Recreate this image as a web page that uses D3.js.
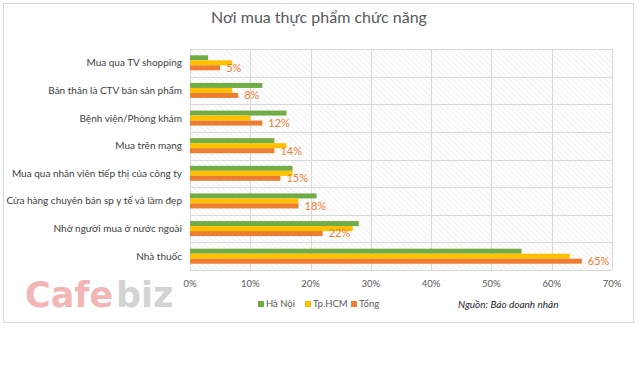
<!DOCTYPE html>
<html>
<head>
<meta charset="utf-8">
<script src="https://cdn.jsdelivr.net/npm/d3@7"></script>
<style>
  body { margin: 0; background: #fff; }
  svg { font-family: Lato, "Open Sans", sans-serif; }
</style>
</head>
<body>
<svg id="chart" width="640" height="384"></svg>
<script>
// categories, top to bottom
const categories = [
  "Mua qua TV shopping",
  "Bản thân là CTV bán sản phẩm",
  "Bệnh viện/Phòng khám",
  "Mua trên mạng",
  "Mua qua nhân viên tiếp thị của công ty",
  "Cửa hàng chuyên bán sp y tế và làm đẹp",
  "Nhờ người mua ở nước ngoài",
  "Nhà thuốc"
];
const haNoi = [3, 12, 16, 14, 17, 21, 28, 55];
const tpHCM = [7, 7, 10, 16, 17, 18, 27, 63];
const tong = [5, 8, 12, 14, 15, 18, 22, 65];
const seriesNames = ["Hà Nội", "Tp.HCM", "Tổng"];
const seriesColors = ["#70ad47", "#ffc000", "#ed7d31"];
const xTicks = [0, 10, 20, 30, 40, 50, 60, 70];

const series = [haNoi, tpHCM, tong];

const svg = d3.select("#chart");

// outer frame
svg.append("rect")
  .attr("x", 3.5).attr("y", 3.5)
  .attr("width", 630).attr("height", 319)
  .attr("fill", "#fff")
  .attr("stroke", "#d9d9d9");

// hatch pattern for plot area
const defs = svg.append("defs");
const pat = defs.append("pattern")
  .attr("id", "hatch")
  .attr("patternUnits", "userSpaceOnUse")
  .attr("width", 4).attr("height", 4)
  .attr("patternTransform", "rotate(-45)");
pat.append("line")
  .attr("x1", 0).attr("y1", 0).attr("x2", 0).attr("y2", 4)
  .attr("stroke", "#e4e4e4").attr("stroke-width", 1);

const margin = { top: 49, left: 190 };
const width = 422, height = 221;

const g = svg.append("g")
  .attr("transform", "translate(" + margin.left + "," + margin.top + ")");

const x = d3.scaleLinear().domain([0, 70]).range([0, width]);
const y = d3.scaleBand().domain(categories).range([0, height]);

g.append("rect")
  .attr("width", width).attr("height", height)
  .attr("fill", "url(#hatch)");

// vertical gridlines
g.selectAll(".vgrid")
  .data(xTicks)
  .enter().append("line")
  .attr("x1", d => Math.round(x(d)) + 0.5)
  .attr("x2", d => Math.round(x(d)) + 0.5)
  .attr("y1", 0).attr("y2", height)
  .attr("stroke", "#d9d9d9");

// horizontal gridlines between categories
const hLines = categories.map(c => y(c)).concat([height]);
g.selectAll(".hgrid")
  .data(hLines)
  .enter().append("line")
  .attr("x1", 0).attr("x2", width)
  .attr("y1", d => Math.round(d) + 0.5)
  .attr("y2", d => Math.round(d) + 0.5)
  .attr("stroke", "#d9d9d9");

// bars
const barH = 5;
const groupH = barH * series.length;
series.forEach((vals, i) => {
  g.selectAll(".bar" + i)
    .data(vals)
    .enter().append("rect")
    .attr("x", 0)
    .attr("y", (d, j) => y(categories[j]) + (y.bandwidth() - groupH) / 2 + i * barH)
    .attr("width", d => x(d))
    .attr("height", barH)
    .attr("fill", seriesColors[i]);
});

// data labels for total
g.selectAll(".lbl")
  .data(tong)
  .enter().append("text")
  .attr("x", d => x(d) + 6)
  .attr("y", (d, j) => y(categories[j]) + (y.bandwidth() - groupH) / 2 + 2 * barH + barH / 2)
  .attr("dy", "0.35em")
  .attr("font-size", 11)
  .attr("fill", "#ed7d31")
  .text(d => d + "%");

// category labels
g.selectAll(".cat")
  .data(categories)
  .enter().append("text")
  .attr("x", -8)
  .attr("y", d => y(d) + y.bandwidth() / 2)
  .attr("dy", "0.35em")
  .attr("text-anchor", "end")
  .attr("font-size", 10)
  .attr("fill", "#404040")
  .text(d => d);

// x axis labels
g.selectAll(".xt")
  .data(xTicks)
  .enter().append("text")
  .attr("x", d => x(d))
  .attr("y", height + 14)
  .attr("dy", "0.35em")
  .attr("text-anchor", "middle")
  .attr("font-size", 9.5)
  .attr("fill", "#595959")
  .text(d => d + "%");

// title
svg.append("text")
  .attr("x", 319).attr("y", 23)
  .attr("text-anchor", "middle")
  .attr("font-size", 16)
  .attr("fill", "#595959")
  .text("Nơi mua thực phẩm chức năng");

// legend
const legendX = [258, 305, 351];
seriesNames.forEach((name, i) => {
  const lg = svg.append("g").attr("transform", "translate(" + legendX[i] + ",304)");
  lg.append("rect").attr("x", 0).attr("y", -3).attr("width", 6).attr("height", 6)
    .attr("fill", seriesColors[i]);
  lg.append("text").attr("x", 8).attr("y", 0).attr("dy", "0.35em")
    .attr("font-size", 9.5).attr("fill", "#595959").text(name);
});

// source
svg.append("text")
  .attr("x", 458).attr("y", 304).attr("dy", "0.35em")
  .attr("font-size", 10)
  .attr("font-style", "italic")
  .attr("fill", "#262626")
  .text("Nguồn: Báo doanh nhân");

// watermark, two parts in two colours
svg.append("text")
  .attr("x", 25).attr("y", 307)
  .attr("font-size", 35)
  .attr("font-weight", "bold")
  .attr("font-family", "'DejaVu Sans', sans-serif")
  .attr("fill", "#f3b6b6")
  .text("Cafe");
svg.append("text")
  .attr("x", 116).attr("y", 307)
  .attr("font-size", 35)
  .attr("font-weight", "bold")
  .attr("font-family", "'DejaVu Sans', sans-serif")
  .attr("fill", "#d3d3d3")
  .text("biz");
</script>
</body>
</html>
